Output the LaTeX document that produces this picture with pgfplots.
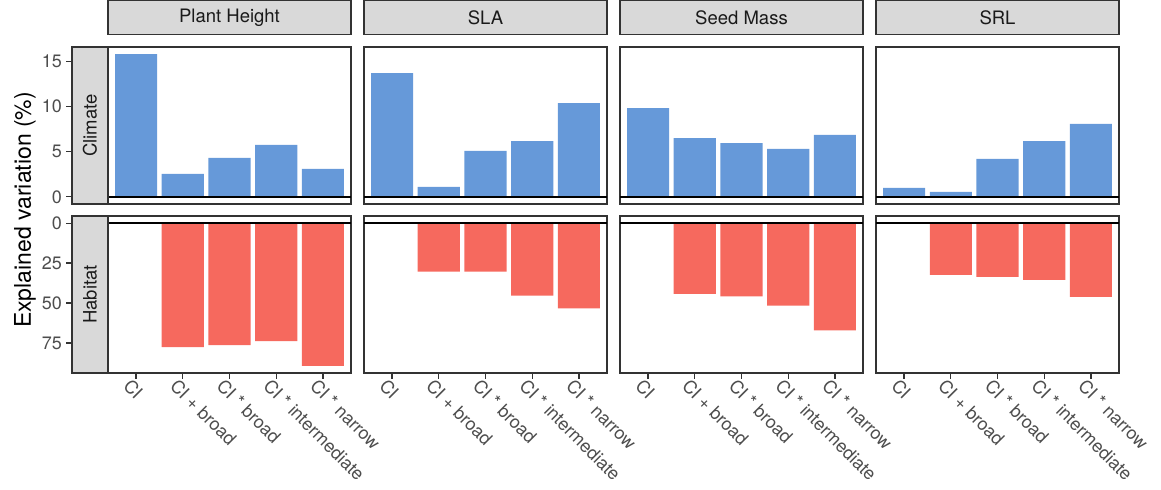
\documentclass[border=0pt]{standalone}
\usepackage{fontspec}
\setmainfont{TeX Gyre Heros}
\usepackage{pgfplots}
\pgfplotsset{compat=1.18}
\definecolor{barblue}{HTML}{6699D9}
\definecolor{barred}{HTML}{F6695E}
\definecolor{stripfill}{HTML}{D9D9D9}
\definecolor{framecol}{HTML}{333333}
\definecolor{ticktext}{HTML}{4D4D4D}
\definecolor{striptext}{HTML}{1A1A1A}
\newcommand\tickfont{\fontsize{9pt}{10.8pt}\selectfont}
\newcommand\stripfont{\fontsize{9.25pt}{11pt}\selectfont}
\newcommand\labfont{\fontsize{11.5pt}{13.8pt}\selectfont}

\pgfplotsset{
  panel/.style={scale only axis, width=121.5pt, height=78.5pt, anchor=north west,
    xmin=0.4, xmax=5.6, axis line style={framecol, line width=0.6pt},
    ytick=\empty, xtick=\empty,
    /pgf/number format/assume math mode=true},
  toprow/.style={ymin=-0.79, ymax=16.56},
  botrow/.style={ymin=-4.47, ymax=93.77, y dir=reverse,
    xtick={1,2,3,4,5},
    xticklabels={CI, CI + broad, CI * broad, CI * intermediate, CI * narrow},
    xtick pos=left, tick align=outside, major tick length=2.8pt,
    tick style={framecol, line width=0.6pt},
    xticklabel style={rotate=-45, anchor=north west, font=\tickfont, text=ticktext, inner sep=1pt, xshift=-3pt}},
  colstrip/.style={title={#1}, title style={at={(0.5,1)}, anchor=south, yshift=0pt,
    fill=stripfill, draw=framecol, line width=0.6pt, minimum width=121.5pt,
    minimum height=17pt, inner sep=0pt, font=\stripfont, text=striptext}},
  rowstrip/.style={scale only axis, width=18pt, height=78.5pt, anchor=north west,
    xmin=0, xmax=1, xtick=\empty, ytick pos=left, tick align=outside,
    major tick length=2.8pt, tick style={framecol, line width=0.6pt},
    axis line style={framecol, line width=0.6pt},
    axis background/.style={fill=stripfill},
    yticklabel style={font=\tickfont, text=ticktext, inner sep=2pt},
    /pgf/number format/assume math mode=true},
  zeroline/.style={black, line width=1pt, forget plot},
}

\begin{document}
\begin{tikzpicture}
\useasboundingbox (0,0) rectangle (580.5pt,-245pt);

% ---------- top row (Climate) ----------
\begin{axis}[panel, toprow, colstrip={Plant Height}, at={(54pt,-23.5pt)}]
\addplot[ybar, bar width=0.9, fill=barblue, draw=none]
  coordinates {(1,15.77) (2,2.54) (3,4.30) (4,5.73) (5,3.09)};
\addplot[zeroline] coordinates {(0.4,0) (5.6,0)};
\end{axis}
\begin{axis}[panel, toprow, colstrip={SLA}, at={(182pt,-23.5pt)}]
\addplot[ybar, bar width=0.9, fill=barblue, draw=none]
  coordinates {(1,13.67) (2,1.10) (3,5.07) (4,6.17) (5,10.36)};
\addplot[zeroline] coordinates {(0.4,0) (5.6,0)};
\end{axis}
\begin{axis}[panel, toprow, colstrip={Seed Mass}, at={(310pt,-23.5pt)}]
\addplot[ybar, bar width=0.9, fill=barblue, draw=none]
  coordinates {(1,9.81) (2,6.50) (3,5.95) (4,5.29) (5,6.84)};
\addplot[zeroline] coordinates {(0.4,0) (5.6,0)};
\end{axis}
\begin{axis}[panel, toprow, colstrip={SRL}, at={(438pt,-23.5pt)}]
\addplot[ybar, bar width=0.9, fill=barblue, draw=none]
  coordinates {(1,0.99) (2,0.55) (3,4.19) (4,6.17) (5,8.05)};
\addplot[zeroline] coordinates {(0.4,0) (5.6,0)};
\end{axis}

% ---------- bottom row (Habitat) ----------
\begin{axis}[panel, botrow, at={(54pt,-108pt)}]
\addplot[ybar, bar width=0.9, fill=barred, draw=none]
  coordinates {(2,77.5) (3,76.3) (4,73.8) (5,89.3)};
\addplot[zeroline] coordinates {(0.4,0) (5.6,0)};
\end{axis}
\begin{axis}[panel, botrow, at={(182pt,-108pt)}]
\addplot[ybar, bar width=0.9, fill=barred, draw=none]
  coordinates {(2,30.4) (3,30.4) (4,45.3) (5,53.3)};
\addplot[zeroline] coordinates {(0.4,0) (5.6,0)};
\end{axis}
\begin{axis}[panel, botrow, at={(310pt,-108pt)}]
\addplot[ybar, bar width=0.9, fill=barred, draw=none]
  coordinates {(2,44.2) (3,45.9) (4,51.6) (5,67.1)};
\addplot[zeroline] coordinates {(0.4,0) (5.6,0)};
\end{axis}
\begin{axis}[panel, botrow, at={(438pt,-108pt)}]
\addplot[ybar, bar width=0.9, fill=barred, draw=none]
  coordinates {(2,32.4) (3,33.7) (4,35.5) (5,46.1)};
\addplot[zeroline] coordinates {(0.4,0) (5.6,0)};
\end{axis}

% ---------- row strips with the y axes ----------
\begin{axis}[rowstrip, toprow, ytick={0,5,10,15}, at={(36pt,-23.5pt)}]
\node[rotate=90, font=\stripfont, text=striptext] at (rel axis cs:0.5,0.5) {Climate};
\end{axis}
\begin{axis}[rowstrip, ymin=-4.47, ymax=93.77, y dir=reverse, ytick={0,25,50,75}, at={(36pt,-108pt)}]
\node[rotate=90, font=\stripfont, text=striptext] at (rel axis cs:0.5,0.5) {Habitat};
\end{axis}

\node[rotate=90, font=\labfont, text=black] at (12.5pt,-105pt) {Explained variation (\%)};
\end{tikzpicture}
\end{document}
